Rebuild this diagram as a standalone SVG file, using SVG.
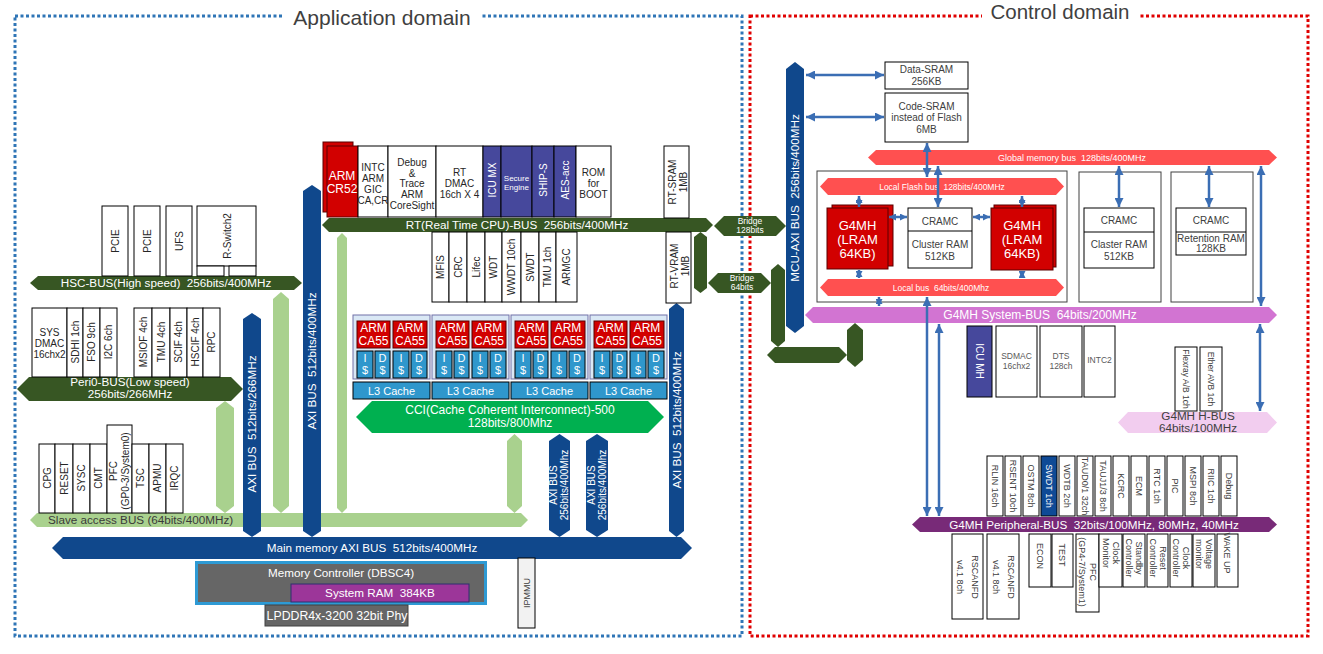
<svg xmlns="http://www.w3.org/2000/svg" width="1323" height="654" viewBox="0 0 1323 654">
<defs>
<style>
text{font-family:"Liberation Sans",Arial,sans-serif;font-size:10px;fill:#262626;text-anchor:middle;white-space:pre}
.bx{fill:#fff;stroke:#000;stroke-width:1}
.w{fill:#fff}
.g{fill:#404040}
.s8{font-size:8px}
.s85{font-size:8.5px}
.s9{font-size:9px}
.s11{font-size:11px}
.b{font-size:11.7px}
.s12{font-size:12px}
.s13{font-size:13px}
.dg{fill:#375623}
.bl{fill:#10488C}
.lg{fill:#A9D18E}
.sal{fill:#FF5050}
.red{fill:#D20000;stroke:#5A0000;stroke-width:1}
.pur{fill:#46489C;stroke:#000;stroke-width:1}
.cache{fill:#2F97CC;stroke:#000;stroke-width:1}
.clu{fill:#DAE8F5;stroke:#7070A8;stroke-width:1}
.arw{stroke:#3B6EB4;stroke-width:2.5;fill:none;marker-start:url(#ah);marker-end:url(#ah)}
.arws{stroke:#3B6EB4;stroke-width:2.5;fill:none;marker-start:url(#ahs);marker-end:url(#ahs)}
</style>
<marker id="ah" viewBox="0 0 10 10" refX="10" refY="5" markerWidth="9" markerHeight="9" markerUnits="userSpaceOnUse" orient="auto-start-reverse"><path d="M0,0 L10,5 L0,10 z" fill="#3B6EB4"/></marker>
<marker id="ahs" viewBox="0 0 10 10" refX="10" refY="5" markerWidth="7" markerHeight="7" markerUnits="userSpaceOnUse" orient="auto-start-reverse"><path d="M0,0 L10,5 L0,10 z" fill="#3B6EB4"/></marker>
</defs>
<rect width="1323" height="654" fill="#fff"/>

<g id="domains">
<rect x="15" y="16" width="727" height="620" fill="none" stroke="#2E75B6" stroke-width="3" stroke-dasharray="3 2.5"/>
<rect x="750" y="16" width="558" height="620" fill="none" stroke="#E00000" stroke-width="3" stroke-dasharray="3 2.5"/>
<rect x="284" y="4" width="196" height="24" fill="#fff"/>
<rect x="982" y="0" width="158" height="26" fill="#fff"/>
<text x="382" y="25" style="font-size:21px" class="g">Application domain</text>
<text x="1060" y="19" style="font-size:20.5px" class="g">Control domain</text>
</g>

<g id="buses">
<polygon id="lg1" class="lg" points="225,401 234,408 234,506 225,513 216,506 216,408"/>
<polygon id="lg2" class="lg" points="281,292 289,299 289,506 281,513 273,506 273,299"/>
<polygon id="lg3" class="lg" points="342,233 347,238 347,508 342,513 337,508 337,238"/>
<polygon id="lg4" class="lg" points="514.5,434 522,441 522,506 514.5,513 507,506 507,441"/>
<g id="slave-bus"><polygon class="lg" points="30,520 37,513 521,513 528,520 521,527 37,527"/>
<text x="48" y="524.2" class="b" style="text-anchor:start;fill:#3a3a3a">Slave access BUS (64bits/400MHz)</text></g>
<g id="hsc-bus"><polygon class="dg" points="30,283 38,276 294,276 302,283 294,290 38,290"/>
<text x="166" y="287.2" class="b w">HSC-BUS(High speed)  256bits/400MHz</text></g>
<g id="peri0-bus"><polygon class="dg" points="17,389 29,377 231,377 243,389 231,401 29,401"/>
<text x="130" y="386.2" class="b w">Peri0-BUS(Low speed)</text>
<text x="130" y="398.2" class="b w">256bits/266MHz</text></g>
<g id="rt-bus"><polygon class="dg" points="322,225 329,218 706,218 713,225 706,232 329,232"/>
<text x="517" y="229.2" class="b w">RT(Real Time CPU)-BUS  256bits/400MHz</text></g>
<g id="axi266"><polygon class="bl" points="252,313 261,319 261,531 252,537 243,531 243,319"/>
<text transform="translate(252,424) rotate(-90)" y="4.1" class="b w">AXI BUS  512bits/266MHz</text></g>
<g id="axi400l"><polygon class="bl" points="312,185 321,191 321,531 312,537 303,531 303,191"/>
<text transform="translate(312,361) rotate(-90)" y="4.1" class="b w">AXI BUS  512bits/400MHz</text></g>
<g id="axi400r"><polygon class="bl" points="676.5,303 684,309 684,531 676.5,537 669,531 669,309"/>
<text transform="translate(676.5,420) rotate(-90)" y="4.1" class="b w">AXI BUS  512bits/400MHz</text></g>
<g id="axi256a"><polygon class="bl" points="559.5,434 570,441 570,530 559.5,537 549,530 549,441"/>
<text transform="translate(559,485) rotate(-90)" class="w"><tspan x="0" y="-2">AXI BUS</tspan><tspan x="0" y="9">256bits/400Mhz</tspan></text></g>
<g id="axi256b"><polygon class="bl" points="597,434 608,441 608,530 597,537 586,530 586,441"/>
<text transform="translate(597,485) rotate(-90)" class="w"><tspan x="0" y="-2">AXI BUS</tspan><tspan x="0" y="9">256bits/400Mhz</tspan></text></g>
<g id="main-bus"><polygon class="bl" points="52,548 63,537 681,537 692,548 681,559 63,559"/>
<text x="372" y="552.2" class="b w">Main memory AXI BUS  512bits/400MHz</text></g>
<g id="cci"><polygon fill="#00B050" points="356,417 372,401 648,401 664,417 648,433 372,433"/>
<text x="510" y="414.3" class="s12 w">CCI(Cache Coherent Interconnect)-500</text>
<text x="510" y="427.3" class="s12 w">128bits/800Mhz</text></g>
<g id="bridge128"><polygon class="dg" points="714,226 724,216 776,216 786,226 776,236 724,236"/>
<text x="750" y="224" class="s85 w">Bridge</text><text x="750" y="233" class="s85 w">128bits</text></g>
<g id="bridge64"><polygon class="dg" points="708,283 718,273 761,273 771,283 761,293 718,293"/>
<text x="742" y="281" class="s85 w">Bridge</text><text x="742" y="290" class="s85 w">64bits</text></g>
<polygon id="dgv1" class="dg" points="700.5,232 707,237 707,288 700.5,293 694,288 694,237"/>
<polygon id="dgv2" class="dg" points="778,264 785,270 785,341 778,347 771,341 771,270"/>
<polygon id="dgh" class="dg" points="767,355 775,347 839,347 847,355 839,363 775,363"/>
<polygon id="dgv3" class="dg" points="855,323 863,330 863,360 855,367 847,360 847,330"/>
<g id="mcu-axi"><polygon class="bl" points="795,62 804,69 804,326 795,333 786,326 786,69"/>
<text transform="translate(795,198) rotate(-90)" y="4.1" class="b w">MCU-AXI BUS  256bits/400MHz</text></g>
<g id="global-bus"><polygon class="sal" points="868,157.5 876,150 1269,150 1277,157.5 1269,165 876,165"/>
<text x="1072" y="160.7" class="s9 w">Global memory bus  128bits/400MHz</text></g>
<g id="local-box"><rect x="817" y="171" width="250" height="131" fill="#fff" stroke="#404040" stroke-width="1"/></g>
<g id="local-flash-bus"><polygon class="sal" points="820,186.5 828,178 1056,178 1064,186.5 1056,195 828,195"/>
<text x="942" y="189.5" class="s85 w">Local Flash bus  128bits/400MHz</text></g>
<g id="local-bus"><polygon class="sal" points="820,287.5 828,279 1056,279 1064,287.5 1056,296 828,296"/>
<text x="941" y="290.5" class="s85 w">Local bus  64bits/400Mhz</text></g>
<g id="system-bus"><polygon fill="#D274D2" points="805,315 813,307 1269,307 1277,315 1269,323 813,323"/>
<text x="1040" y="319.3" class="s12 w">G4MH System-BUS  64bits/200MHz</text></g>
<g id="periph-bus"><polygon fill="#782A78" points="912,524.5 920,517 1269,517 1277,524.5 1269,532 920,532"/>
<text x="1094" y="528.6" class="b w">G4MH Peripheral-BUS  32bits/100MHz, 80MHz, 40MHz</text></g>
<g id="h-bus"><polygon fill="#F2CDEF" points="1118,422.5 1128,412 1267,412 1277,422.5 1267,433 1128,433"/>
<text x="1198" y="420" class="b g">G4MH H-BUS</text>
<text x="1198" y="432" class="b g">64bits/100MHz</text></g>
</g>

<g id="hsc-nodes">
<g id="pcie1"><rect class="bx" x="102" y="206" width="26" height="70"/><text transform="translate(115,241) rotate(-90)" y="3.5">PCIE</text></g>
<g id="pcie2"><rect class="bx" x="134" y="206" width="26" height="70"/><text transform="translate(147,241) rotate(-90)" y="3.5">PCIE</text></g>
<g id="ufs"><rect class="bx" x="166" y="206" width="26" height="70"/><text transform="translate(179,241) rotate(-90)" y="3.5">UFS</text></g>
<g id="rswitch"><rect class="bx" x="197" y="206" width="59" height="60"/><rect class="bx" x="197" y="266" width="27" height="10"/><rect class="bx" x="229" y="266" width="27" height="10"/>
<text transform="translate(227,236) rotate(-90)" y="3.5">R-Switch2</text></g>
</g>

<g id="peri0-nodes">
<g id="sysdmac"><rect class="bx" x="32" y="308" width="35" height="69"/><text x="49.5" y="335.5">SYS</text><text x="49.5" y="346.5">DMAC</text><text x="49.5" y="357.5">16chx2</text></g>
<g id="sdhi"><rect class="bx" x="67" y="308" width="16" height="69"/><text transform="translate(75,342) rotate(-90)" y="3.5">SDHI 1ch</text></g>
<g id="fso"><rect class="bx" x="83" y="308" width="17" height="69"/><text transform="translate(91.5,342) rotate(-90)" y="3.5">FSO 9ch</text></g>
<g id="i2c"><rect class="bx" x="100" y="308" width="17" height="69"/><text transform="translate(108.5,342) rotate(-90)" y="3.5">I2C 6ch</text></g>
<g id="msiof"><rect class="bx" x="134" y="308" width="18" height="69"/><text transform="translate(143,342) rotate(-90)" y="3.5">MSIOF 4ch</text></g>
<g id="tmu4"><rect class="bx" x="152" y="308" width="18" height="69"/><text transform="translate(161,342) rotate(-90)" y="3.5">TMU 4ch</text></g>
<g id="scif"><rect class="bx" x="170" y="308" width="17" height="69"/><text transform="translate(178.5,342) rotate(-90)" y="3.5">SCIF 4ch</text></g>
<g id="hscif"><rect class="bx" x="187" y="308" width="16" height="69"/><text transform="translate(195,342) rotate(-90)" y="3.5">HSCIF 4ch</text></g>
<g id="rpc"><rect class="bx" x="203" y="308" width="17" height="69"/><text transform="translate(211.5,342) rotate(-90)" y="3.5">RPC</text></g>
</g>

<g id="slave-nodes">
<g id="cpg"><rect class="bx" x="39" y="444" width="16" height="69"/><text transform="translate(47,478) rotate(-90)" y="3.5">CPG</text></g>
<g id="reset"><rect class="bx" x="55" y="444" width="18" height="69"/><text transform="translate(64,478) rotate(-90)" y="3.5">RESET</text></g>
<g id="sysc"><rect class="bx" x="73" y="444" width="17" height="69"/><text transform="translate(81.5,478) rotate(-90)" y="3.5">SYSC</text></g>
<g id="cmt"><rect class="bx" x="90" y="444" width="17" height="69"/><text transform="translate(98.5,478) rotate(-90)" y="3.5">CMT</text></g>
<g id="pfc0"><rect class="bx" x="107" y="425" width="25" height="88"/><text transform="translate(119.5,471) rotate(-90)"><tspan x="0" y="-3">PFC</tspan><tspan x="0" y="9">(GP0-3/System0)</tspan></text></g>
<g id="tsc"><rect class="bx" x="132" y="444" width="17" height="69"/><text transform="translate(140.5,478) rotate(-90)" y="3.5">TSC</text></g>
<g id="apmu"><rect class="bx" x="149" y="444" width="17" height="69"/><text transform="translate(157.5,478) rotate(-90)" y="3.5">APMU</text></g>
<g id="irqc"><rect class="bx" x="166" y="444" width="17" height="69"/><text transform="translate(174.5,478) rotate(-90)" y="3.5">IRQC</text></g>
</g>

<g id="rt-nodes">
<g id="cr52"><rect class="red" x="323" y="142" width="30" height="70"/><rect class="red" x="327" y="146" width="31" height="71"/>
<text x="342" y="180" class="s12 w">ARM</text><text x="342" y="193" class="s12 w">CR52</text></g>
<g id="intc"><rect class="bx" x="358" y="146" width="30" height="71"/><text x="373" y="170.5">INTC</text><text x="373" y="181.5">ARM</text><text x="373" y="192.5">GIC</text><text x="373" y="203.5">CA,CR</text></g>
<g id="debug"><rect class="bx" x="388" y="146" width="48" height="71"/><text x="412" y="165.5">Debug</text><text x="412" y="176.5">&amp;</text><text x="412" y="187">Trace</text><text x="412" y="197.5">ARM</text><text x="412" y="208.5">CoreSight</text></g>
<g id="rtdmac"><rect class="bx" x="436" y="146" width="47" height="71"/><text x="459.5" y="175.5">RT</text><text x="459.5" y="186.5">DMAC</text><text x="459.5" y="197.5">16ch X 4</text></g>
<g id="icumx"><rect class="pur" x="483" y="146" width="18" height="71"/><text transform="translate(492,180) rotate(-90)" y="3.5" class="w">ICU MX</text></g>
<g id="secure"><rect class="pur" x="501" y="146" width="31" height="71"/><text x="516.5" y="181" class="s8 w">Secure</text><text x="516.5" y="190" class="s8 w">Engine</text></g>
<g id="ships"><rect class="pur" x="532" y="146" width="22" height="71"/><text transform="translate(543,180) rotate(-90)" y="3.5" class="w">SHIP-S</text></g>
<g id="aes"><rect class="pur" x="554" y="146" width="22" height="71"/><text transform="translate(565,180) rotate(-90)" y="3.5" class="w">AES-acc</text></g>
<g id="rom"><rect class="bx" x="576" y="146" width="35" height="71"/><text x="593.5" y="175.5">ROM</text><text x="593.5" y="186.5">for</text><text x="593.5" y="197.5">BOOT</text></g>
<g id="rtsram"><rect class="bx" x="664" y="146" width="25" height="72"/><text transform="translate(676.5,182) rotate(-90)"><tspan x="0" y="-1">RT-SRAM</tspan><tspan x="0" y="10">1MB</tspan></text></g>
<g id="mfis"><rect class="bx" x="432" y="232" width="17" height="70"/><text transform="translate(440.5,267) rotate(-90)" y="3.5">MFIS</text></g>
<g id="crc"><rect class="bx" x="449" y="232" width="18" height="70"/><text transform="translate(458,267) rotate(-90)" y="3.5">CRC</text></g>
<g id="lifec"><rect class="bx" x="467" y="232" width="18" height="70"/><text transform="translate(476,267) rotate(-90)" y="3.5">Lifec</text></g>
<g id="wdt"><rect class="bx" x="485" y="232" width="17" height="70"/><text transform="translate(493.5,267) rotate(-90)" y="3.5">WDT</text></g>
<g id="wwdt"><rect class="bx" x="502" y="232" width="19" height="70"/><text transform="translate(511.5,267) rotate(-90)" y="3.5">WWDT 10ch</text></g>
<g id="swdt"><rect class="bx" x="521" y="232" width="18" height="70"/><text transform="translate(530,267) rotate(-90)" y="3.5">SWDT</text></g>
<g id="tmu1"><rect class="bx" x="539" y="232" width="17" height="70"/><text transform="translate(547.5,267) rotate(-90)" y="3.5">TMU 1ch</text></g>
<g id="armgc"><rect class="bx" x="556" y="232" width="21" height="70"/><text transform="translate(566.5,267) rotate(-90)" y="3.5">ARMGC</text></g>
<g id="rtvram"><rect class="bx" x="666" y="232" width="25" height="71"/><text transform="translate(678.5,266) rotate(-90)"><tspan x="0" y="-1">RT-VRAM</tspan><tspan x="0" y="10">1MB</tspan></text></g>
</g>

<g id="ca55-clusters">
<g id="cl1">
<rect class="clu" x="353" y="315" width="77" height="64"/>
<rect class="red" x="357" y="321" width="33" height="27"/><rect class="red" x="393" y="321" width="34" height="27"/>
<text x="373.5" y="332" class="s12 w">ARM</text><text x="373.5" y="345" class="s12 w">CA55</text>
<text x="410" y="332" class="s12 w">ARM</text><text x="410" y="345" class="s12 w">CA55</text>
<rect class="cache" x="357" y="351" width="16" height="27"/><rect class="cache" x="375" y="351" width="15" height="27"/><rect class="cache" x="393" y="351" width="16" height="27"/><rect class="cache" x="411" y="351" width="16" height="27"/>
<text x="365" y="362" class="s11 w">I</text><text x="365" y="374" class="s11 w">$</text><text x="382.5" y="362" class="s11 w">D</text><text x="382.5" y="374" class="s11 w">$</text>
<text x="401" y="362" class="s11 w">I</text><text x="401" y="374" class="s11 w">$</text><text x="419" y="362" class="s11 w">D</text><text x="419" y="374" class="s11 w">$</text>
<rect class="cache" x="353" y="382" width="77" height="17"/><text x="391.5" y="394.5" class="s11 w">L3 Cache</text>
</g>
<g id="cl2">
<rect class="clu" x="432" y="315" width="77" height="64"/>
<rect class="red" x="436" y="321" width="33" height="27"/><rect class="red" x="472" y="321" width="34" height="27"/>
<text x="452.5" y="332" class="s12 w">ARM</text><text x="452.5" y="345" class="s12 w">CA55</text>
<text x="489" y="332" class="s12 w">ARM</text><text x="489" y="345" class="s12 w">CA55</text>
<rect class="cache" x="436" y="351" width="16" height="27"/><rect class="cache" x="454" y="351" width="15" height="27"/><rect class="cache" x="472" y="351" width="16" height="27"/><rect class="cache" x="490" y="351" width="16" height="27"/>
<text x="444" y="362" class="s11 w">I</text><text x="444" y="374" class="s11 w">$</text><text x="461.5" y="362" class="s11 w">D</text><text x="461.5" y="374" class="s11 w">$</text>
<text x="480" y="362" class="s11 w">I</text><text x="480" y="374" class="s11 w">$</text><text x="498" y="362" class="s11 w">D</text><text x="498" y="374" class="s11 w">$</text>
<rect class="cache" x="432" y="382" width="77" height="17"/><text x="470.5" y="394.5" class="s11 w">L3 Cache</text>
</g>
<g id="cl3">
<rect class="clu" x="511" y="315" width="77" height="64"/>
<rect class="red" x="515" y="321" width="33" height="27"/><rect class="red" x="551" y="321" width="34" height="27"/>
<text x="531.5" y="332" class="s12 w">ARM</text><text x="531.5" y="345" class="s12 w">CA55</text>
<text x="568" y="332" class="s12 w">ARM</text><text x="568" y="345" class="s12 w">CA55</text>
<rect class="cache" x="515" y="351" width="16" height="27"/><rect class="cache" x="533" y="351" width="15" height="27"/><rect class="cache" x="551" y="351" width="16" height="27"/><rect class="cache" x="569" y="351" width="16" height="27"/>
<text x="523" y="362" class="s11 w">I</text><text x="523" y="374" class="s11 w">$</text><text x="540.5" y="362" class="s11 w">D</text><text x="540.5" y="374" class="s11 w">$</text>
<text x="559" y="362" class="s11 w">I</text><text x="559" y="374" class="s11 w">$</text><text x="577" y="362" class="s11 w">D</text><text x="577" y="374" class="s11 w">$</text>
<rect class="cache" x="511" y="382" width="77" height="17"/><text x="549.5" y="394.5" class="s11 w">L3 Cache</text>
</g>
<g id="cl4">
<rect class="clu" x="590" y="315" width="77" height="64"/>
<rect class="red" x="594" y="321" width="33" height="27"/><rect class="red" x="630" y="321" width="34" height="27"/>
<text x="610.5" y="332" class="s12 w">ARM</text><text x="610.5" y="345" class="s12 w">CA55</text>
<text x="647" y="332" class="s12 w">ARM</text><text x="647" y="345" class="s12 w">CA55</text>
<rect class="cache" x="594" y="351" width="16" height="27"/><rect class="cache" x="612" y="351" width="15" height="27"/><rect class="cache" x="630" y="351" width="16" height="27"/><rect class="cache" x="648" y="351" width="16" height="27"/>
<text x="602" y="362" class="s11 w">I</text><text x="602" y="374" class="s11 w">$</text><text x="619.5" y="362" class="s11 w">D</text><text x="619.5" y="374" class="s11 w">$</text>
<text x="638" y="362" class="s11 w">I</text><text x="638" y="374" class="s11 w">$</text><text x="656" y="362" class="s11 w">D</text><text x="656" y="374" class="s11 w">$</text>
<rect class="cache" x="590" y="382" width="77" height="17"/><text x="628.5" y="394.5" class="s11 w">L3 Cache</text>
</g>
</g>

<g id="memory">
<g id="memctrl"><rect x="196.5" y="562.5" width="289" height="41" fill="#666" stroke="#2E9AD4" stroke-width="3"/>
<text x="341" y="577.2" class="b w">Memory Controller (DBSC4)</text></g>
<g id="sysram"><rect x="291" y="584" width="178" height="18" fill="#9C3699" stroke="#2F2F6F" stroke-width="1"/>
<text x="380" y="597.2" class="b w">System RAM  384KB</text></g>
<g id="lpddr"><rect x="265" y="605" width="143" height="21" fill="#666" stroke="#404040" stroke-width="1"/>
<text x="337" y="619.8" style="font-size:12.3px" class="w">LPDDR4x-3200 32bit Phy</text></g>
<g id="ipmmu"><rect x="518" y="558" width="17" height="70" fill="#F2F2F2" stroke="#000" stroke-width="1"/>
<text transform="translate(526.5,593) rotate(-90)" y="3.2" class="s9 g">IPMMU</text></g>
</g>

<g id="control-nodes">
<g id="datasram"><rect class="bx" x="885" y="62" width="83" height="27"/><text x="926.5" y="72.5" class="g">Data-SRAM</text><text x="926.5" y="84.5" class="g">256KB</text></g>
<g id="codesram"><rect class="bx" x="885" y="93" width="83" height="49"/><text x="926.5" y="109.5" class="g">Code-SRAM</text><text x="926.5" y="120.5" class="g">instead of Flash</text><text x="926.5" y="132.5" class="g">6MB</text></g>
<g id="g4mh1"><rect class="red" x="832" y="205" width="61" height="61"/><rect class="red" x="827" y="208" width="61" height="61"/>
<text x="857.5" y="229.5" class="s13 w">G4MH</text><text x="857.5" y="243.5" class="s13 w">(LRAM</text><text x="857.5" y="257.5" class="s13 w">64KB)</text></g>
<g id="cramc1"><rect class="bx" x="908" y="208" width="64" height="60"/><line x1="908" y1="231" x2="972" y2="231" stroke="#000"/>
<text x="940" y="224.5" class="g">CRAMC</text><text x="940" y="247.5" class="g">Cluster RAM</text><text x="940" y="259.5" class="g">512KB</text></g>
<g id="g4mh2"><rect class="red" x="994" y="205" width="62" height="62"/><rect class="red" x="991" y="208" width="62" height="62"/>
<text x="1022" y="229.5" class="s13 w">G4MH</text><text x="1022" y="243.5" class="s13 w">(LRAM</text><text x="1022" y="257.5" class="s13 w">64KB)</text></g>
<g id="claster"><rect x="1079" y="172" width="82" height="130" fill="#fff" stroke="#404040"/><rect class="bx" x="1084" y="208" width="70" height="60"/><line x1="1084" y1="232" x2="1154" y2="232" stroke="#000"/>
<text x="1119" y="223.5" class="g">CRAMC</text><text x="1119" y="247.5" class="g">Claster RAM</text><text x="1119" y="259.5" class="g">512KB</text></g>
<g id="retention"><rect x="1171" y="172" width="82" height="130" fill="#fff" stroke="#404040"/><rect class="bx" x="1176" y="208" width="70" height="47"/><line x1="1176" y1="232" x2="1246" y2="232" stroke="#000"/>
<text x="1211" y="223.5" class="g">CRAMC</text><text x="1211" y="241.5" class="g">Retention RAM</text><text x="1211" y="251.5" class="g">128KB</text></g>
<g id="icumh"><rect class="pur" x="967" y="326" width="25" height="71"/><text transform="translate(979.5,361) rotate(90)" y="3.5" class="w">ICU MH</text></g>
<g id="sdmac"><rect class="bx" x="996" y="326" width="41" height="71"/><text x="1016.5" y="359" class="s85" style="fill:#595959">SDMAC</text><text x="1016.5" y="369" class="s85" style="fill:#595959">16chx2</text></g>
<g id="dts"><rect class="bx" x="1040" y="326" width="42" height="71"/><text x="1061" y="359" class="s85" style="fill:#595959">DTS</text><text x="1061" y="369" class="s85" style="fill:#595959">128ch</text></g>
<g id="intc2"><rect class="bx" x="1084" y="326" width="31" height="71"/><text x="1099.5" y="363" class="s85" style="fill:#595959">INTC2</text></g>
<g id="flexray"><rect class="bx" x="1175" y="347" width="22" height="64"/><text transform="translate(1186,379) rotate(90)" y="3" class="s85 g">Flexray A/B 1ch</text></g>
<g id="etheravb"><rect class="bx" x="1200" y="347" width="22" height="64"/><text transform="translate(1211,379) rotate(90)" y="3" class="s85 g">Ether AVB 1ch</text></g>
</g>

<g id="periph-nodes">
<g id="rlin"><rect class="bx" x="987" y="456" width="16" height="60"/><text transform="translate(995,486) rotate(90)" y="3.2" class="s9 g">RLIN 16ch</text></g>
<g id="rsent"><rect class="bx" x="1005" y="456" width="16" height="60"/><text transform="translate(1013,486) rotate(90)" y="3.2" class="s9 g">RSENT 10ch</text></g>
<g id="ostm"><rect class="bx" x="1023" y="456" width="16" height="60"/><text transform="translate(1031,486) rotate(90)" y="3.2" class="s9 g">OSTM 8ch</text></g>
<g id="swdt1"><rect x="1041" y="456" width="16" height="60" fill="#0F4A96" stroke="#000"/><text transform="translate(1049,486) rotate(90)" y="3.2" class="s9 w">SWDT 1ch</text></g>
<g id="wdtb"><rect class="bx" x="1059" y="456" width="16" height="60"/><text transform="translate(1067,486) rotate(90)" y="3.2" class="s9 g">WDTB 2ch</text></g>
<g id="taud"><rect class="bx" x="1077" y="456" width="16" height="60"/><text transform="translate(1085,486) rotate(90)" y="3.2" class="s9 g">TAUD0/1 32ch</text></g>
<g id="tauj"><rect class="bx" x="1095" y="456" width="16" height="60"/><text transform="translate(1103,486) rotate(90)" y="3.2" class="s9 g">TAUJ1/3 8ch</text></g>
<g id="kcrc"><rect class="bx" x="1113" y="456" width="16" height="60"/><text transform="translate(1121,486) rotate(90)" y="3.2" class="s9 g">KCRC</text></g>
<g id="ecm"><rect class="bx" x="1131" y="456" width="16" height="60"/><text transform="translate(1139,486) rotate(90)" y="3.2" class="s9 g">ECM</text></g>
<g id="rtc"><rect class="bx" x="1149" y="456" width="16" height="60"/><text transform="translate(1157,486) rotate(90)" y="3.2" class="s9 g">RTC 1ch</text></g>
<g id="pic"><rect class="bx" x="1167" y="456" width="16" height="60"/><text transform="translate(1175,486) rotate(90)" y="3.2" class="s9 g">PIC</text></g>
<g id="mspi"><rect class="bx" x="1185" y="456" width="16" height="60"/><text transform="translate(1193,486) rotate(90)" y="3.2" class="s9 g">MSPI 8ch</text></g>
<g id="riic"><rect class="bx" x="1203" y="456" width="16" height="60"/><text transform="translate(1211,486) rotate(90)" y="3.2" class="s9 g">RIIC 1ch</text></g>
<g id="debug2"><rect class="bx" x="1221" y="456" width="16" height="60"/><text transform="translate(1229,486) rotate(90)" y="3.2" class="s9 g">Debug</text></g>
<g id="rscanfd1"><rect class="bx" x="952" y="534" width="31" height="85"/><text transform="translate(967.5,577) rotate(90)" class="s9 g"><tspan x="0" y="-4.5">RSCANFD</tspan><tspan x="0" y="10.5">v4.1 8ch</tspan></text></g>
<g id="rscanfd2"><rect class="bx" x="987" y="534" width="32" height="85"/><text transform="translate(1003,577) rotate(90)" class="s9 g"><tspan x="0" y="-4.5">RSCANFD</tspan><tspan x="0" y="10.5">v4.1 8ch</tspan></text></g>
<g id="econ"><rect class="bx" x="1029" y="534" width="22" height="53"/><text transform="translate(1040,556) rotate(90)" y="3.2" class="s9 g">ECON</text></g>
<g id="test"><rect class="bx" x="1052" y="534" width="21" height="53"/><text transform="translate(1062.5,555) rotate(90)" y="3.2" class="s9 g">TEST</text></g>
<g id="pfc1"><rect class="bx" x="1076" y="534" width="23" height="78"/><text transform="translate(1087.5,572) rotate(90)" class="s9 g"><tspan x="0" y="-2.5">PFC</tspan><tspan x="0" y="8.5">(GP4-7/System1)</tspan></text></g>
<g id="clkmon"><rect class="bx" x="1099" y="534" width="23" height="53"/><text transform="translate(1110.5,553) rotate(90)" class="s9 g"><tspan x="0" y="-2">Clock</tspan><tspan x="0" y="8">Monitor</tspan></text></g>
<g id="standby"><rect class="bx" x="1123" y="534" width="22" height="53"/><text transform="translate(1134,558) rotate(90)" class="s9 g"><tspan x="0" y="-2">Standby</tspan><tspan x="0" y="8">Controller</tspan></text></g>
<g id="resetc"><rect class="bx" x="1147" y="534" width="21" height="53"/><text transform="translate(1157.5,558) rotate(90)" class="s9 g"><tspan x="0" y="-2">Reset</tspan><tspan x="0" y="8">Controller</tspan></text></g>
<g id="clkc"><rect class="bx" x="1170" y="534" width="22" height="53"/><text transform="translate(1181,558) rotate(90)" class="s9 g"><tspan x="0" y="-2">Clock</tspan><tspan x="0" y="8">Controller</tspan></text></g>
<g id="voltage"><rect class="bx" x="1193" y="534" width="22" height="53"/><text transform="translate(1204,554) rotate(90)" class="s9 g"><tspan x="0" y="-2">Voltage</tspan><tspan x="0" y="8">monitor</tspan></text></g>
<g id="wakeup"><rect class="bx" x="1217" y="534" width="21" height="53"/><text transform="translate(1227.5,553) rotate(90)" y="3.2" class="s9 g">WAKE UP</text></g>
</g>

<g id="connectors">
<line class="arw" x1="806" y1="75" x2="884" y2="75"/>
<line class="arw" x1="806" y1="117" x2="884" y2="117"/>
<line class="arw" x1="927" y1="143" x2="927" y2="177"/>
<line class="arw" x1="938" y1="166" x2="938" y2="207"/>
<line class="arws" x1="859" y1="196" x2="859" y2="207"/>
<line class="arws" x1="859" y1="270" x2="859" y2="278"/>
<line class="arws" x1="889" y1="217" x2="907" y2="217"/>
<line class="arws" x1="973" y1="217" x2="990" y2="217"/>
<line class="arws" x1="1022" y1="196" x2="1022" y2="207"/>
<line class="arws" x1="1022" y1="271" x2="1022" y2="278"/>
<line class="arws" x1="879" y1="297" x2="879" y2="306"/>
<line class="arw" x1="927" y1="297" x2="927" y2="516"/>
<line class="arw" x1="939" y1="324" x2="939" y2="516"/>
<line class="arw" x1="1119" y1="166" x2="1119" y2="207"/>
<line class="arw" x1="1209" y1="166" x2="1209" y2="207"/>
<line class="arw" x1="1261" y1="166" x2="1261" y2="306"/>
<line class="arw" x1="1260" y1="324" x2="1260" y2="411"/>
</g>
</svg>
